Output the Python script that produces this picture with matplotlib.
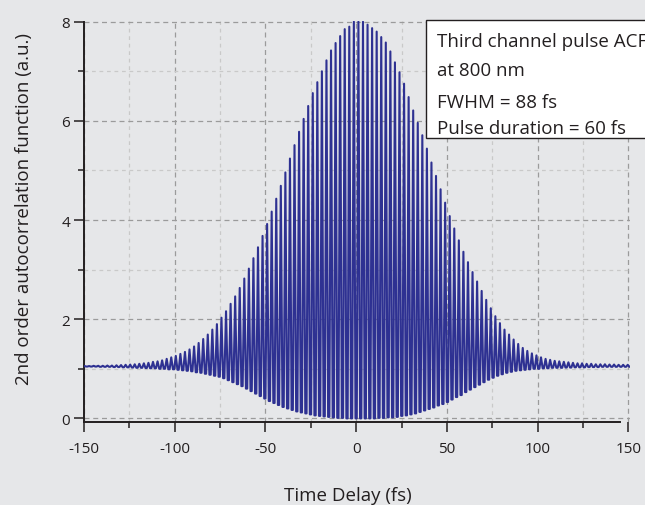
import numpy as np
import matplotlib
matplotlib.use("Agg")
import matplotlib.pyplot as plt
from matplotlib.ticker import MultipleLocator, FixedLocator
from matplotlib.patches import Rectangle

# ---------------- data ----------------
fringe_period = 2.515      # fs between neighbouring fringe maxima
first_peak_time = -149.7   # fs, first fringe maximum

# height of each fringe maximum (upper envelope), left to right
peak_values = [
    1.055, 1.055, 1.06, 1.06, 1.06, 1.065, 1.065, 1.07, 1.075, 1.08,
    1.085, 1.09, 1.10, 1.11, 1.12, 1.14, 1.15, 1.17, 1.20, 1.23,
    1.26, 1.30, 1.34, 1.39, 1.45, 1.52, 1.60, 1.69, 1.79, 1.90,
    2.03, 2.16, 2.31, 2.46, 2.63, 2.82, 3.02, 3.23, 3.45, 3.68,
    3.92, 4.17, 4.43, 4.69, 4.96, 5.24, 5.51, 5.78, 6.04, 6.30,
    6.56, 6.78, 7.00, 7.22, 7.42, 7.57, 7.71, 7.85, 7.90, 8.00,
    8.00, 8.00, 7.94, 7.87, 7.80, 7.69, 7.58, 7.40, 7.18, 6.98,
    6.75, 6.48, 6.21, 5.96, 5.71, 5.44, 5.16, 4.89, 4.62, 4.35,
    4.08, 3.83, 3.59, 3.36, 3.15, 2.95, 2.76, 2.57, 2.39, 2.22,
    2.06, 1.92, 1.79, 1.69, 1.59, 1.50, 1.42, 1.36, 1.31, 1.27,
    1.23, 1.20, 1.18, 1.16, 1.15, 1.14, 1.13, 1.12, 1.11, 1.11,
    1.10, 1.10, 1.09, 1.09, 1.09, 1.085, 1.085, 1.08, 1.08, 1.08,
]

# level of each fringe minimum (lower envelope), following each maximum
trough_values = [
    1.045, 1.045, 1.045, 1.04, 1.04, 1.04, 1.035, 1.035, 1.03, 1.03,
    1.025, 1.02, 1.02, 1.015, 1.01, 1.01, 1.00, 1.00, 0.99, 0.99,
    0.98, 0.97, 0.96, 0.95, 0.93, 0.92, 0.90, 0.88, 0.86, 0.84,
    0.81, 0.77, 0.73, 0.69, 0.65, 0.60, 0.55, 0.50, 0.45, 0.40,
    0.35, 0.31, 0.27, 0.23, 0.20, 0.17, 0.14, 0.12, 0.10, 0.08,
    0.06, 0.05, 0.04, 0.03, 0.02, 0.01, 0.01, 0.00, 0.00, 0.00,
    0.00, 0.00, 0.00, 0.00, 0.01, 0.01, 0.02, 0.02, 0.03, 0.05,
    0.06, 0.08, 0.10, 0.13, 0.16, 0.19, 0.22, 0.26, 0.29, 0.33,
    0.38, 0.43, 0.47, 0.53, 0.58, 0.63, 0.68, 0.73, 0.78, 0.82,
    0.86, 0.89, 0.92, 0.94, 0.96, 0.97, 0.98, 0.99, 1.00, 1.00,
    1.01, 1.01, 1.02, 1.02, 1.02, 1.025, 1.025, 1.03, 1.03, 1.03,
    1.035, 1.035, 1.035, 1.04, 1.04, 1.04, 1.04, 1.04, 1.04, 1.04,
]

x_ticks = [-150, -100, -50, 0, 50, 100, 150]
x_tick_labels = ["-150", "-100", "-50", "0", "50", "100", "150"]
y_ticks = [0, 2, 4, 6, 8]
y_tick_labels = ["0", "2", "4", "6", "8"]

x_label = "Time Delay (fs)"
y_label = "2nd order autocorrelation function (a.u.)"
info_lines = ["Third channel pulse ACF", "at 800 nm",
              "FWHM = 88 fs", "Pulse duration = 60 fs"]

# ---------------- build trace ----------------
# each fringe: sharp maximum, then a flat-bottomed minimum until the next fringe
n = len(peak_values)
peak_times = first_peak_time + fringe_period * np.arange(n)
half_width = 0.36 * fringe_period          # rise/fall time of a fringe
tt = [peak_times[0] - half_width]
vv = [trough_values[0]]
for k in range(n):
    tt += [peak_times[k], peak_times[k] + half_width,
           peak_times[k] + fringe_period - half_width]
    vv += [peak_values[k], trough_values[k], trough_values[k]]
t = np.array(tt)
v = np.array(vv)

# ---------------- styling ----------------
FONT = ["Open Sans", "DejaVu Sans"]
plt.rcParams["font.family"] = FONT
plt.rcParams["axes.unicode_minus"] = False
BG = "#e6e7e9"
INK = "#231f20"

fig = plt.figure(figsize=(6.45, 5.06), dpi=100, facecolor=BG)
ax = fig.add_axes([0.1302, 0.1634, 0.8459, 0.7937])
ax.set_facecolor(BG)

ax.plot(t, v, color="#2e3192", lw=1.5, solid_joinstyle="round", zorder=3)

ax.set_xlim(-150, 150.6)
ax.set_ylim(-0.08, 8.02)

ax.xaxis.set_major_locator(FixedLocator(x_ticks))
ax.set_xticklabels(x_tick_labels)
ax.yaxis.set_major_locator(FixedLocator(y_ticks))
ax.set_yticklabels(y_tick_labels)
ax.xaxis.set_minor_locator(MultipleLocator(25))
ax.yaxis.set_minor_locator(MultipleLocator(1))

ax.grid(which="major", color="#9b9b9b", ls=(0, (4, 3)), lw=0.9, zorder=1)
ax.grid(which="minor", color="#c9c9c9", ls=(0, (3, 3)), lw=0.9, zorder=1)
ax.set_axisbelow(True)

for s in ("top", "right"):
    ax.spines[s].set_visible(False)
for s in ("left", "bottom"):
    ax.spines[s].set_color(INK)
    ax.spines[s].set_linewidth(1.4)
ax.spines["left"].set_bounds(-0.08, 8.0)
ax.spines["bottom"].set_bounds(-150, 145.5)

ax.tick_params(axis="both", which="major", direction="out", length=7,
               width=1.1, color=INK, labelcolor=INK, labelsize=11)
ax.tick_params(axis="x", which="major", pad=6.5)
ax.tick_params(axis="y", which="major", pad=3.0)
ax.tick_params(which="minor", direction="out", length=4.5, width=1.1,
               color=INK)

fig.text(0.539, 0.0099, x_label, ha="center", va="baseline",
         fontsize=13.5, color=INK)
fig.text(0.037, 0.586, y_label, ha="center", va="center",
         rotation=90, fontsize=13.5, color=INK)

# annotation box (runs off the right edge like the original)
box = Rectangle((426 / 645, (506 - 139.3) / 506), 0.5,
                (139.3 - 21) / 506, transform=fig.transFigure,
                facecolor="white", edgecolor=INK, lw=1.0, zorder=5)
fig.patches.append(box)
baselines = [47.3, 76.0, 108.3, 134.0]
for line, b in zip(info_lines, baselines):
    fig.text(437 / 645, (506 - b) / 506, line, ha="left", va="baseline",
             fontsize=13.5, color=INK, zorder=6)

fig.savefig("out.png", dpi=100, facecolor=BG)
